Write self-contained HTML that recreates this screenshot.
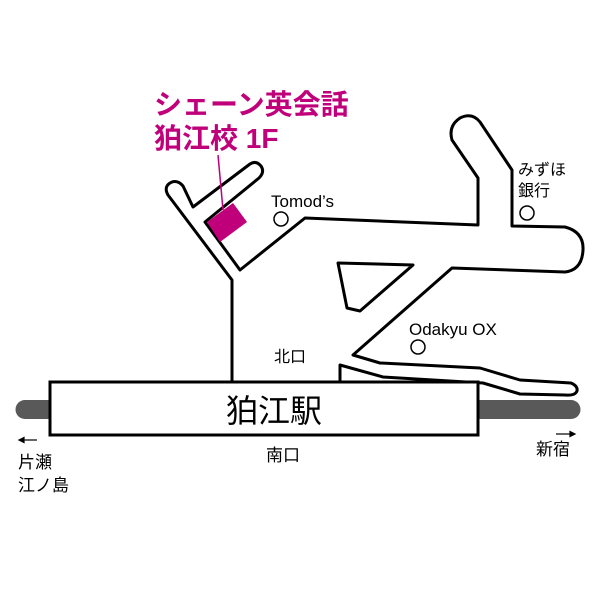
<!DOCTYPE html>
<html><head><meta charset="utf-8"><style>
body{margin:0;background:#fff}
svg{display:block}
text{font-family:"Liberation Sans","Noto Sans CJK JP",sans-serif}
</style></head><body>
<svg width="600" height="600" viewBox="0 0 600 600" xmlns="http://www.w3.org/2000/svg">
<rect width="600" height="600" fill="#fff"/>
<line x1="25" y1="409.5" x2="60" y2="409.5" stroke="#595959" stroke-width="19" stroke-linecap="round"/>
<line x1="470" y1="409.5" x2="571" y2="409.5" stroke="#595959" stroke-width="19" stroke-linecap="round"/>
<g fill="none" stroke="#000" stroke-width="3" stroke-linejoin="round">
<path d="M232,382 L232,280 L168,195 Q163,186 172,182 Q178,180 183,186 L193,207 L250,164 Q256,160 261,166 Q265,172 259,178 L205,222 L240,270 L305,218 L478,225 L478,178 L452,140 Q448,126 460,118 Q472,112 480,122 L512,170 L512,226 L565,227 Q584,232 583,250 Q582,270 565,272 L452,268 L353,355 L380,363 L480,368 L520,380 L571,383 Q578,386 577,391 Q575,396 565,395 L520,394 L483,383 L383,377 L340,365 L340,382"/>
<path d="M338,263 L413,265 L360,311 L347,308 Z"/>
<circle cx="281" cy="219" r="7" stroke-width="1.5"/>
<circle cx="527" cy="213" r="7" stroke-width="1.5"/>
<circle cx="418" cy="347" r="7" stroke-width="1.5"/>
</g>
<rect x="50" y="382" width="428" height="53" fill="#fff" stroke="#000" stroke-width="3"/>
<polygon points="207,222 233,203 247,222 220,242" fill="#c0007a"/>
<line x1="218" y1="155" x2="223" y2="210" stroke="#c0007a" stroke-width="1.5"/>
<text x="154" y="114" font-size="28" font-weight="bold" fill="#c0007a">シェーン英会話</text>
<text x="154" y="148" font-size="28" font-weight="bold" fill="#c0007a">狛江校 1F</text>
<text x="271" y="207" font-size="17" fill="#000">Tomod’s</text>
<text x="518" y="175" font-size="16" fill="#000">みずほ</text>
<text x="518" y="196" font-size="16" fill="#000">銀行</text>
<text x="409" y="335" font-size="17" fill="#000">Odakyu OX</text>
<text x="274" y="362" font-size="16" fill="#000">北口</text>
<text x="226" y="422" font-size="32" fill="#000">狛江駅</text>
<text x="266" y="461" font-size="17" fill="#000">南口</text>
<g stroke="#000" stroke-width="1.2" fill="#000">
<line x1="21" y1="440" x2="37" y2="440"/><polygon points="19,440 24,437.5 24,442.5"/>
<line x1="556" y1="434" x2="572" y2="434"/><polygon points="575,434 570,431.5 570,436.5"/>
</g>
<text x="18" y="468" font-size="17" fill="#000">片瀬</text>
<text x="18" y="491" font-size="17" fill="#000">江ノ島</text>
<text x="536" y="455" font-size="17" fill="#000">新宿</text>
</svg>
</body></html>
